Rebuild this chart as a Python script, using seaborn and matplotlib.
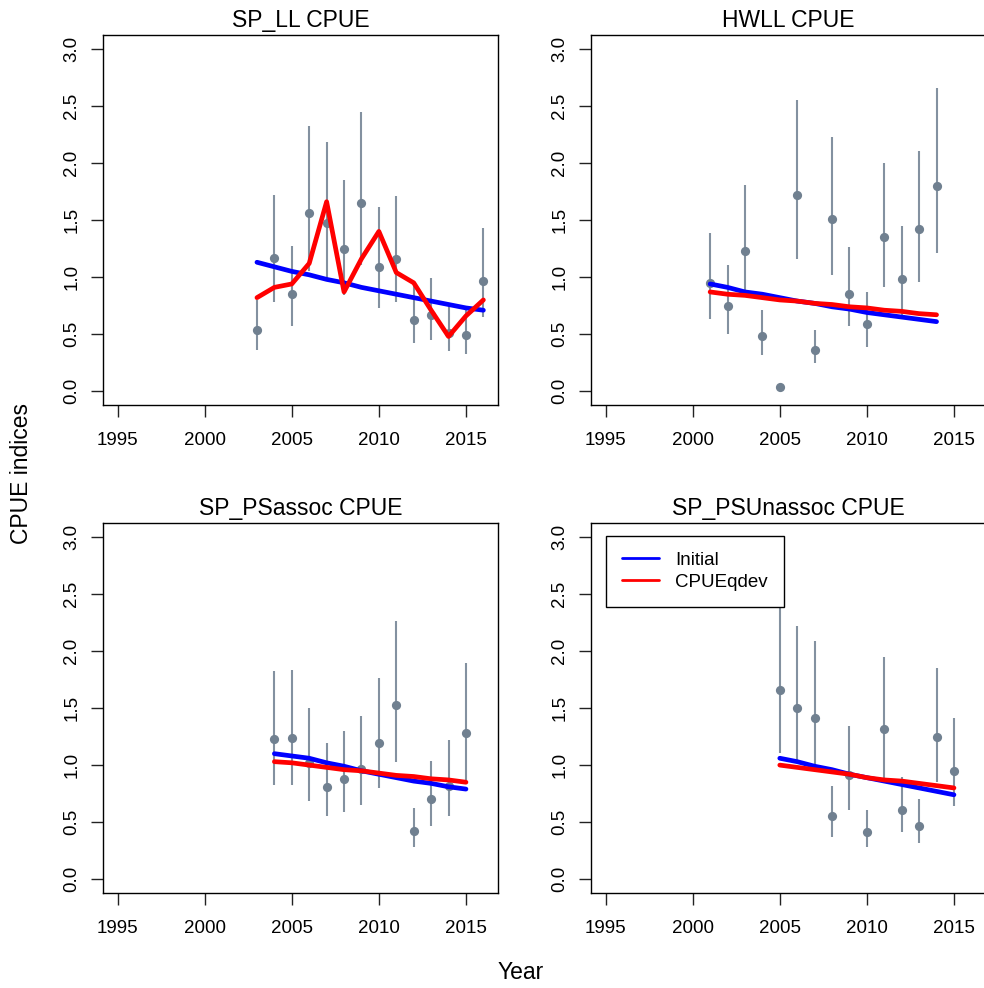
import numpy as np
import pandas as pd
import matplotlib
matplotlib.use("Agg")
import matplotlib.pyplot as plt
import seaborn as sns
from matplotlib.lines import Line2D

# ---------------- data ----------------
titles = ["SP_LL CPUE", "HWLL CPUE", "SP_PSassoc CPUE", "SP_PSUnassoc CPUE"]

years_ll = list(range(2003, 2017))
obs_ll = [0.54, 1.17, 0.85, 1.56, 1.47, 1.25, 1.65, 1.09, 1.16, 0.62, 0.67, 0.51, 0.49, 0.97]
lo_ll = [0.36, 0.78, 0.57, 1.05, 0.99, 0.84, 1.11, 0.73, 0.78, 0.42, 0.45, 0.35, 0.33, 0.65]
hi_ll = [0.80, 1.72, 1.27, 2.32, 2.18, 1.85, 2.45, 1.61, 1.71, 0.92, 0.99, 0.76, 0.75, 1.43]
init_ll = [1.13, 1.09, 1.05, 1.02, 0.98, 0.95, 0.91, 0.88, 0.85, 0.82, 0.79, 0.76, 0.73, 0.71]
qdev_ll = [0.82, 0.91, 0.94, 1.12, 1.66, 0.87, 1.16, 1.40, 1.04, 0.95, 0.71, 0.48, 0.66, 0.80]

years_hw = list(range(2001, 2015))
obs_hw = [0.95, 0.75, 1.23, 0.48, 0.04, 1.72, 0.36, 1.51, 0.85, 0.59, 1.35, 0.98, 1.42, 1.80]
lo_hw = [0.63, 0.50, 0.83, 0.32, 0.03, 1.16, 0.25, 1.02, 0.57, 0.39, 0.91, 0.66, 0.96, 1.21]
hi_hw = [1.39, 1.11, 1.81, 0.71, 0.06, 2.55, 0.54, 2.23, 1.26, 0.87, 2.00, 1.45, 2.10, 2.66]
init_hw = [0.94, 0.91, 0.87, 0.85, 0.82, 0.79, 0.77, 0.74, 0.72, 0.69, 0.67, 0.65, 0.63, 0.61]
qdev_hw = [0.87, 0.85, 0.84, 0.82, 0.80, 0.79, 0.77, 0.76, 0.74, 0.73, 0.71, 0.70, 0.68, 0.67]

years_pa = list(range(2004, 2016))
obs_pa = [1.23, 1.24, 1.02, 0.81, 0.88, 0.97, 1.19, 1.53, 0.42, 0.70, 0.82, 1.28]
lo_pa = [0.83, 0.83, 0.69, 0.55, 0.59, 0.65, 0.80, 1.03, 0.28, 0.47, 0.55, 0.87]
hi_pa = [1.82, 1.83, 1.50, 1.19, 1.30, 1.43, 1.76, 2.26, 0.62, 1.04, 1.22, 1.89]
init_pa = [1.10, 1.08, 1.06, 1.02, 0.99, 0.95, 0.92, 0.89, 0.86, 0.84, 0.81, 0.79]
qdev_pa = [1.03, 1.02, 1.00, 0.98, 0.96, 0.95, 0.93, 0.91, 0.90, 0.88, 0.87, 0.85]

years_pu = list(range(2005, 2016))
obs_pu = [1.66, 1.50, 1.41, 0.55, 0.91, 0.41, 1.32, 0.61, 0.47, 1.25, 0.95]
lo_pu = [1.11, 1.02, 0.95, 0.37, 0.61, 0.28, 0.89, 0.41, 0.32, 0.85, 0.64]
hi_pu = [2.45, 2.22, 2.09, 0.82, 1.34, 0.61, 1.95, 0.90, 0.70, 1.85, 1.41]
init_pu = [1.06, 1.03, 0.99, 0.96, 0.92, 0.89, 0.86, 0.83, 0.80, 0.77, 0.74]
qdev_pu = [1.00, 0.98, 0.96, 0.94, 0.92, 0.89, 0.87, 0.86, 0.84, 0.82, 0.80]

series_labels = ["Initial", "CPUEqdev"]
xticks = [1995, 2000, 2005, 2010, 2015]
yticks = [0.0, 0.5, 1.0, 1.5, 2.0, 2.5, 3.0]
ytick_labels = ["0.0", "0.5", "1.0", "1.5", "2.0", "2.5", "3.0"]

panels = [
    (years_ll, obs_ll, lo_ll, hi_ll, init_ll, qdev_ll),
    (years_hw, obs_hw, lo_hw, hi_hw, init_hw, qdev_hw),
    (years_pa, obs_pa, lo_pa, hi_pa, init_pa, qdev_pa),
    (years_pu, obs_pu, lo_pu, hi_pu, init_pu, qdev_pu),
]

# ---------------- style ----------------
sns.set_theme(style="white")
plt.rcParams["font.family"] = ["Liberation Sans", "DejaVu Sans"]
plt.rcParams["text.color"] = "black"
plt.rcParams["axes.labelcolor"] = "black"
plt.rcParams["xtick.color"] = "black"
plt.rcParams["ytick.color"] = "black"
plt.rcParams["axes.titlecolor"] = "black"

W, H = 984, 988
fig = plt.figure(figsize=(W / 100, H / 100), dpi=100)

def frac_rect(x0, y0, x1, y1):
    return [x0 / W, 1 - y1 / H, (x1 - x0) / W, (y1 - y0) / H]

rects = [
    frac_rect(103, 35, 498, 405),
    frac_rect(591, 35, 986, 405),
    frac_rect(103, 523, 498, 893),
    frac_rect(591, 523, 986, 893),
]

pt_col = "#708090"
bar_col = "#8391a0"

for i, (rect, title, pdata) in enumerate(zip(rects, titles, panels)):
    yrs, obs, lo, hi, ini, qd = pdata
    ax = fig.add_axes(rect)
    ax.vlines(yrs, lo, hi, color=bar_col, linewidth=1.5, zorder=2)
    df_pts = pd.DataFrame({"Year": yrs, "CPUE": obs})
    sns.scatterplot(data=df_pts, x="Year", y="CPUE", ax=ax, color=pt_col,
                    s=44, linewidth=0, zorder=3)
    df_lines = pd.DataFrame({
        "Year": yrs * 2,
        "value": ini + qd,
        "series": [series_labels[0]] * len(yrs) + [series_labels[1]] * len(yrs),
    })
    sns.lineplot(data=df_lines, x="Year", y="value", hue="series",
                 palette={"Initial": "#0000ff", "CPUEqdev": "#ff0000"},
                 linewidth=3.4, ax=ax, legend=False, zorder=4)
    ax.set_xlim(1994.16, 2016.84)
    ax.set_ylim(-0.12, 3.12)
    ax.set_xticks(xticks)
    ax.set_xticklabels([str(t) for t in xticks])
    ax.set_yticks(yticks)
    ax.set_yticklabels(ytick_labels, rotation=90, va="center")
    ax.set_xlabel("")
    ax.set_ylabel("")
    ax.set_title(title, fontsize=16.5, pad=6, color="black")
    for sp in ax.spines.values():
        sp.set_visible(True)
        sp.set_color("black")
        sp.set_linewidth(1.0)
    ax.tick_params(axis="both", which="major", direction="out", length=8.4,
                   width=1.0, color="#222222", labelsize=13.5,
                   bottom=True, left=True, labelcolor="black")
    ax.tick_params(axis="x", pad=11)
    ax.tick_params(axis="y", pad=8)
    if i == 3:
        handles = [Line2D([], [], color="#0000ff", linewidth=2.0),
                   Line2D([], [], color="#ff0000", linewidth=2.0)]
        leg = ax.legend(handles, series_labels, loc="upper left",
                        bbox_to_anchor=(0.038, 0.965), borderaxespad=0,
                        fontsize=13.5, frameon=True, fancybox=False,
                        edgecolor="black", framealpha=1, handlelength=2.0,
                        handletextpad=0.85, labelspacing=0.25, borderpad=0.85)
        leg.get_frame().set_linewidth(1.0)
        for t in leg.get_texts():
            t.set_color("black")
        leg.set_zorder(10)

fig.text(521 / W, 1 - 972 / H, "Year", ha="center", va="center",
         fontsize=16.5, color="black")
fig.text(22 / W, 1 - 473 / H, "CPUE indices", ha="center", va="center",
         rotation=90, fontsize=16.5, color="black")

fig.savefig("out.png", dpi=100)
